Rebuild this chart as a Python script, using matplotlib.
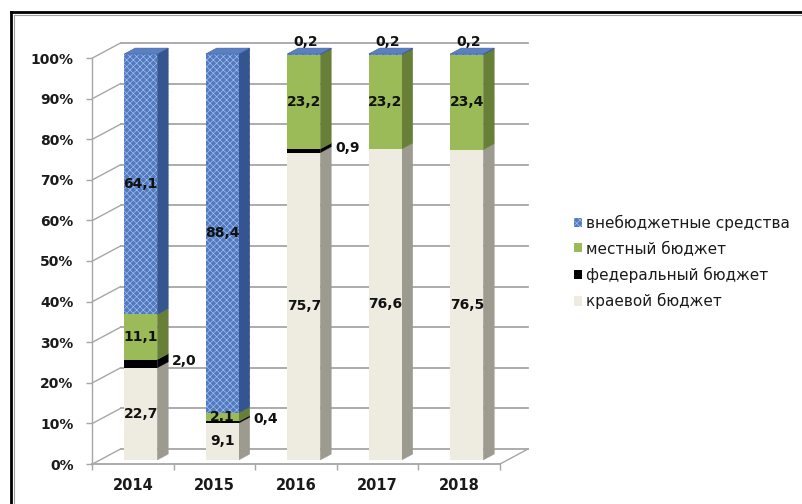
import matplotlib
matplotlib.use("Agg")
import matplotlib.pyplot as plt
from matplotlib.patches import Polygon, Patch
from matplotlib.lines import Line2D
import numpy as np

# ----------------------------- data -----------------------------
YEARS = ["2014", "2015", "2016", "2017", "2018"]
KRAI = [22.7, 9.1, 75.7, 76.6, 76.5]        # краевой бюджет
FEDERAL = [2.0, 0.4, 0.9, 0.0, 0.0]         # федеральный бюджет
LOCAL = [11.1, 2.1, 23.2, 23.2, 23.4]       # местный бюджет
EXTRA = [64.1, 88.4, 0.2, 0.2, 0.2]         # внебюджетные средства
NAMES = ["краевой бюджет", "федеральный бюджет", "местный бюджет", "внебюджетные средства"]
Y_TICKS = [0, 10, 20, 30, 40, 50, 60, 70, 80, 90, 100]

# ----------------------------- style -----------------------------
FRONT = ["#eeece1", "#000000", "#9bbb59", "#5079c0"]
SIDE = ["#9d9a90", "#000000", "#687f38", "#34558f"]
TOP = ["#f4f3ec", "#000000", "#b3cd7c", "#5a80c4"]
HATCH = [None, None, None, "xxxxx"]
HATCH_COL = ["#eeece1", "#000000", "#9bbb59", "#a3bdea"]
GRID = "#a6a6a6"

DX, DY = 0.3436, 3.69          # floor depth in data units
OFF, DEP = 0.27, 0.39          # bar front offset / bar depth (fraction of floor depth)
BW = 0.405                     # bar width

plt.rcParams["hatch.linewidth"] = 0.5
fig = plt.figure(figsize=(8.03, 5.04), dpi=100)
ax = fig.add_axes([92.5 / 803, 40 / 504, 5.4 * 81.5 / 803, 106 * 4.06 / 504])
ax.set_xlim(0, 5.4)
ax.set_ylim(0, 106)
for s in ax.spines.values():
    s.set_visible(False)
ax.patch.set_alpha(0)

n = len(YEARS)
# back wall grid + diagonals
for v in Y_TICKS:
    ax.plot([DX, n + DX], [v + DY, v + DY], color=GRID, lw=1.3, zorder=0, clip_on=False)
    ax.plot([0, DX], [v, v + DY], color=GRID, lw=1.0, zorder=0, clip_on=False)
ax.plot([0, 0], [0, 100], color=GRID, lw=1.0, zorder=0, clip_on=False)
ax.plot([0, n], [0, 0], color=GRID, lw=1.3, zorder=0, clip_on=False)
ax.plot([n, n + DX], [0, DY], color=GRID, lw=1.0, zorder=0, clip_on=False)

data = np.array([KRAI, FEDERAL, LOCAL, EXTRA], dtype=float)
pct = data / data.sum(axis=0) * 100

x = np.arange(n) + 0.5 + OFF * DX
by = OFF * DY
bdx, bdy = DEP * DX, DEP * DY
bottoms = np.zeros(n)
for k in range(4):
    h = pct[k]
    ax.bar(x, h, BW, bottom=bottoms + by, color=FRONT[k], edgecolor=HATCH_COL[k],
           hatch=HATCH[k], linewidth=0, zorder=3, label=NAMES[k])
    for i in range(n):
        if h[i] <= 0:
            continue
        xr = x[i] + BW / 2
        b0 = bottoms[i] + by
        side = Polygon([(xr, b0), (xr + bdx, b0 + bdy), (xr + bdx, b0 + h[i] + bdy), (xr, b0 + h[i])],
                       closed=True, facecolor=SIDE[k], edgecolor=SIDE[k], lw=0.3,
                       hatch=HATCH[k], zorder=2)
        ax.add_patch(side)
    bottoms = bottoms + h

# top faces
for i in range(n):
    xl, xr = x[i] - BW / 2, x[i] + BW / 2
    t = bottoms[i] + by
    top = Polygon([(xl, t), (xr, t), (xr + bdx, t + bdy), (xl + bdx, t + bdy)], closed=True,
                  facecolor=TOP[3], edgecolor="#3e5f9c", lw=0.4, zorder=4)
    ax.add_patch(top)

# data labels
fmt = lambda v: f"{v:.1f}".replace(".", ",")
lab = dict(fontsize=10, fontweight="bold", color="#111111", zorder=6)
cum = np.zeros(n)
for k in range(4):
    for i in range(n):
        v = data[k][i]
        h = pct[k][i]
        mid = cum[i] + h / 2 + by
        if v > 0:
            if k == 1:
                ax.text(x[i] + BW / 2 + bdx + 0.05, mid + bdy * 0.5, fmt(v), ha="left", va="center", **lab)
            elif k == 3 and v < 1:
                ax.text(x[i] + bdx * 0.2, cum[i] + h + by + 3.0, fmt(v), ha="center", va="center", **lab)
            else:
                ax.text(x[i], mid, fmt(v), ha="center", va="center", **lab)
    cum = cum + pct[k]

# axes ticks
ax.set_yticks(Y_TICKS)
ax.set_yticklabels([f"{v}%" for v in Y_TICKS], fontsize=10, fontweight="bold", color="#1a1a1a")
ax.tick_params(axis="y", length=4.5, width=1, color=GRID, pad=9)
ax.set_xticks(np.arange(n + 1))
ax.set_xticklabels([])
ax.set_xticks(np.arange(n) + 0.5, minor=True)
ax.set_xticklabels(YEARS, minor=True, fontsize=10.5, fontweight="bold", color="#1a1a1a")
ax.tick_params(axis="x", which="major", length=4.5, width=1, color=GRID)
ax.tick_params(axis="x", which="minor", length=0, pad=10)

leg_handles = [Patch(facecolor=FRONT[k], edgecolor=HATCH_COL[k], hatch=HATCH[k], lw=0) for k in range(4)]
fig.legend(leg_handles[::-1], NAMES[::-1], loc="center left", bbox_to_anchor=(566 / 803, 1 - 262 / 504),
           frameon=False, fontsize=11, handlelength=0.55, handleheight=0.55, handletextpad=0.25,
           labelspacing=0.68, borderpad=0, labelcolor="#1a1a1a")

# outer frame (black + thin gray inner)
fig.add_artist(Line2D([11 / 803, 1.0], [1 - 12 / 504, 1 - 12 / 504], transform=fig.transFigure, color="black", lw=2))
fig.add_artist(Line2D([11 / 803, 11 / 803], [0, 1 - 12 / 504], transform=fig.transFigure, color="black", lw=2))
fig.add_artist(Line2D([14 / 803, 1.0], [1 - 15 / 504, 1 - 15 / 504], transform=fig.transFigure, color="#a0a0a0", lw=0.8))
fig.add_artist(Line2D([14 / 803, 14 / 803], [0, 1 - 15 / 504], transform=fig.transFigure, color="#a0a0a0", lw=0.8))

fig.savefig("out.png", dpi=100)
